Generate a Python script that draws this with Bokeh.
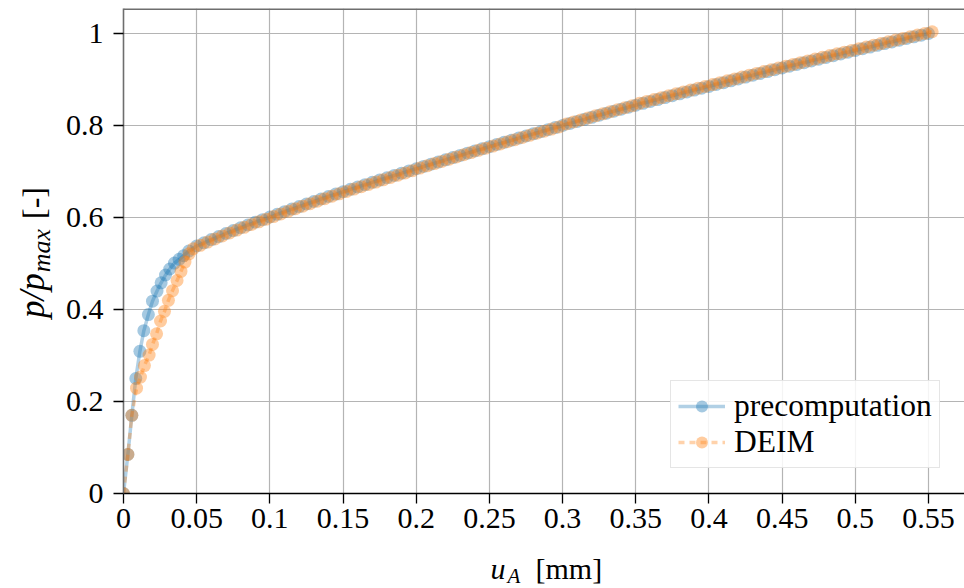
from math import pi
from bokeh.plotting import figure
from bokeh.layouts import column, row
from bokeh.models import Range1d, FixedTicker, Span
from bokeh.core.properties import value
from bokeh.embed import file_html
from bokeh.resources import INLINE

# ---------------- data ----------------
pre_x = [0, 0.003, 0.0057, 0.0084, 0.0112, 0.0139, 0.017, 0.0198, 0.0229, 0.0257,
         0.0287, 0.0316, 0.0348, 0.038, 0.0411, 0.0446,
         0.05, 0.055, 0.06, 0.065, 0.07, 0.075, 0.08, 0.085, 0.09, 0.095,
         0.1, 0.105, 0.11, 0.115, 0.12, 0.125, 0.13, 0.135, 0.14, 0.145,
         0.15, 0.155, 0.16, 0.165, 0.17, 0.175, 0.18, 0.185, 0.19, 0.195,
         0.2, 0.205, 0.21, 0.215, 0.22, 0.225, 0.23, 0.235, 0.24, 0.245,
         0.25, 0.255, 0.26, 0.265, 0.27, 0.275, 0.28, 0.285, 0.29, 0.295,
         0.3, 0.305, 0.31, 0.315, 0.32, 0.325, 0.33, 0.335, 0.34, 0.345,
         0.35, 0.355, 0.36, 0.365, 0.37, 0.375, 0.38, 0.385, 0.39, 0.395,
         0.4, 0.405, 0.41, 0.415, 0.42, 0.425, 0.43, 0.435, 0.44, 0.445,
         0.45, 0.455, 0.46, 0.465, 0.47, 0.475, 0.48, 0.485, 0.49, 0.495,
         0.5, 0.505, 0.51, 0.515, 0.52, 0.525, 0.53, 0.535, 0.54, 0.545,
         0.55]
pre_y = [0, 0.085, 0.170, 0.250, 0.309, 0.354, 0.389, 0.418, 0.440, 0.458,
         0.475, 0.488, 0.501, 0.509, 0.517, 0.527,
         0.5380, 0.5450, 0.5520, 0.5586, 0.5652, 0.5715, 0.5777, 0.5837, 0.5896, 0.5953,
         0.6010, 0.6068, 0.6126, 0.6182, 0.6238, 0.6293, 0.6348, 0.6402, 0.6456, 0.6508,
         0.6560, 0.6612, 0.6663, 0.6714, 0.6764, 0.6814, 0.6864, 0.6914, 0.6963, 0.7012,
         0.7060, 0.7109, 0.7157, 0.7205, 0.7254, 0.7302, 0.7350, 0.7398, 0.7445, 0.7492,
         0.7540, 0.7587, 0.7633, 0.7679, 0.7726, 0.7772, 0.7818, 0.7864, 0.7909, 0.7955,
         0.8000, 0.8045, 0.8089, 0.8133, 0.8178, 0.8222, 0.8266, 0.8310, 0.8353, 0.8397,
         0.8440, 0.8482, 0.8523, 0.8564, 0.8606, 0.8647, 0.8688, 0.8729, 0.8769, 0.8810,
         0.8850, 0.8891, 0.8931, 0.8971, 0.9012, 0.9052, 0.9092, 0.9132, 0.9171, 0.9211,
         0.9250, 0.9289, 0.9327, 0.9365, 0.9404, 0.9442, 0.9480, 0.9518, 0.9555, 0.9593,
         0.9630, 0.9668, 0.9705, 0.9742, 0.9780, 0.9817, 0.9854, 0.9891, 0.9927, 0.9964,
         1.0000]

deim_x = [0, 0.003, 0.0057, 0.0089, 0.0116, 0.0143, 0.0175, 0.0198, 0.0226, 0.0253,
          0.028, 0.0307, 0.0335, 0.0366, 0.0393, 0.042, 0.0448, 0.0476,
          0.0525, 0.0575, 0.0625, 0.0675, 0.0725, 0.0775, 0.0825, 0.0875, 0.0925, 0.0975,
          0.1025, 0.1075, 0.1125, 0.1175, 0.1225, 0.1275, 0.1325, 0.1375, 0.1425, 0.1475,
          0.1525, 0.1575, 0.1625, 0.1675, 0.1725, 0.1775, 0.1825, 0.1875, 0.1925, 0.1975,
          0.2025, 0.2075, 0.2125, 0.2175, 0.2225, 0.2275, 0.2325, 0.2375, 0.2425, 0.2475,
          0.2525, 0.2575, 0.2625, 0.2675, 0.2725, 0.2775, 0.2825, 0.2875, 0.2925, 0.2975,
          0.3025, 0.3075, 0.3125, 0.3175, 0.3225, 0.3275, 0.3325, 0.3375, 0.3425, 0.3475,
          0.3525, 0.3575, 0.3625, 0.3675, 0.3725, 0.3775, 0.3825, 0.3875, 0.3925, 0.3975,
          0.4025, 0.4075, 0.4125, 0.4175, 0.4225, 0.4275, 0.4325, 0.4375, 0.4425, 0.4475,
          0.4525, 0.4575, 0.4625, 0.4675, 0.4725, 0.4775, 0.4825, 0.4875, 0.4925, 0.4975,
          0.5025, 0.5075, 0.5125, 0.5175, 0.5225, 0.5275, 0.5325, 0.5375, 0.5425, 0.5475,
          0.5525]
deim_y = [0, 0.085, 0.170, 0.229, 0.253, 0.278, 0.301, 0.324, 0.347, 0.375,
          0.396, 0.420, 0.441, 0.463, 0.483, 0.503, 0.521, 0.532,
          0.5395, 0.5465, 0.5533, 0.5599, 0.5663, 0.5726, 0.5787, 0.5846, 0.5905, 0.5962,
          0.6019, 0.6077, 0.6134, 0.6190, 0.6246, 0.6301, 0.6355, 0.6409, 0.6462, 0.6514,
          0.6566, 0.6617, 0.6668, 0.6719, 0.6769, 0.6819, 0.6869, 0.6918, 0.6967, 0.7016,
          0.7074, 0.7123, 0.7171, 0.7219, 0.7268, 0.7316, 0.7364, 0.7412, 0.7459, 0.7506,
          0.7553, 0.7600, 0.7646, 0.7692, 0.7739, 0.7785, 0.7831, 0.7877, 0.7922, 0.7967,
          0.8032, 0.8077, 0.8121, 0.8165, 0.8210, 0.8254, 0.8298, 0.8342, 0.8385, 0.8428,
          0.8481, 0.8522, 0.8564, 0.8605, 0.8647, 0.8688, 0.8728, 0.8769, 0.8809, 0.8850,
          0.8890, 0.8931, 0.8971, 0.9011, 0.9052, 0.9092, 0.9132, 0.9172, 0.9211, 0.9250,
          0.9289, 0.9328, 0.9366, 0.9404, 0.9443, 0.9481, 0.9519, 0.9557, 0.9594, 0.9632,
          0.9669, 0.9706, 0.9744, 0.9781, 0.9819, 0.9856, 0.9892, 0.9929, 0.9965, 1.0002,
          1.0038]

x_ticks = [0, 0.05, 0.1, 0.15, 0.2, 0.25, 0.3, 0.35, 0.4, 0.45, 0.5, 0.55]
x_tick_labels = ["0", "0.05", "0.1", "0.15", "0.2", "0.25", "0.3", "0.35", "0.4", "0.45", "0.5", "0.55"]
y_ticks = [0, 0.2, 0.4, 0.6, 0.8, 1]
y_tick_labels = ["0", "0.2", "0.4", "0.6", "0.8", "1"]

series_names = ["precomputation", "DEIM"]

# axis-title pieces: (text, font size, style)
x_title = [("u", "30px", "italic"), ("A", "21px", "italic"), ("[mm]", "30px", "normal")]
y_title = [("p/p", "35px", "italic"), ("max", "26px", "italic"), ("[-]", "32px", "normal")]

# ---------------- styling ----------------
FONT = "Liberation Serif"
BLUE = "#1f77b4"
ORANGE = "#ff7f0e"
YMAX = 1.0543
XMAX = 0.5746

# ---------------- main plot ----------------
p = figure(width=904, height=548, output_backend="svg", toolbar_location=None,
           x_range=Range1d(0, XMAX), y_range=Range1d(0, YMAX),
           min_border_left=63, min_border_right=0, min_border_top=8, min_border_bottom=55)
p.outline_line_color = None
p.background_fill_color = "white"
p.border_fill_color = "white"

for ax in (p.xaxis[0], p.yaxis[0]):
    ax.major_label_text_font = FONT
    ax.major_label_text_font_size = "30px"
    ax.major_label_text_color = "black"
    ax.major_tick_line_color = "black"
    ax.major_tick_line_width = 1.3
    ax.major_tick_out = 10
    ax.major_tick_in = 0
    ax.minor_tick_line_color = None

p.xaxis[0].ticker = FixedTicker(ticks=x_ticks)
p.xaxis[0].major_label_overrides = dict(zip(x_ticks, x_tick_labels))
p.xaxis[0].axis_line_color = "black"
p.xaxis[0].axis_line_width = 1.3
p.xaxis[0].major_label_standoff = 5

p.yaxis[0].ticker = FixedTicker(ticks=y_ticks)
p.yaxis[0].major_label_overrides = dict(zip(y_ticks, y_tick_labels))
p.yaxis[0].axis_line_color = "#6e6e6e"
p.yaxis[0].axis_line_width = 1.6
p.yaxis[0].major_label_standoff = 10

p.xgrid.ticker = FixedTicker(ticks=x_ticks)
p.ygrid.ticker = FixedTicker(ticks=y_ticks)
for g in (p.xgrid[0], p.ygrid[0]):
    g.grid_line_color = "#b4b4b4"
    g.grid_line_width = 1.2

p.add_layout(Span(location=YMAX, dimension="width", line_color="#6e6e6e", line_width=3))

p.line(pre_x, pre_y, line_color=BLUE, line_alpha=0.35, line_width=3.5, legend_label=series_names[0])
p.scatter(pre_x, pre_y, marker="circle", size=13, fill_color=BLUE, fill_alpha=0.4,
          line_color=None, legend_label=series_names[0])
p.line(deim_x, deim_y, line_color=ORANGE, line_alpha=0.35, line_width=3.5, line_dash="6 5",
       legend_label=series_names[1])
p.scatter(deim_x, deim_y, marker="circle", size=13, fill_color=ORANGE, fill_alpha=0.4,
          line_color=None, legend_label=series_names[1])

lg = p.legend[0]
lg.location = (547, 25)
lg.label_text_font = FONT
lg.label_text_font_size = "31.5px"
lg.label_text_color = "black"
lg.border_line_color = "#cccccc"
lg.border_line_width = 1.2
lg.background_fill_alpha = 0.85
lg.glyph_width = 47
lg.glyph_height = 30
lg.label_standoff = 9
lg.spacing = 0
lg.padding = 7
lg.margin = 0


def label_fig(w, h, y_range):
    f = figure(width=w, height=h, output_backend="svg", toolbar_location=None, title=None,
               x_range=Range1d(0, w), y_range=y_range,
               x_axis_type=None, y_axis_type=None,
               min_border_left=0, min_border_right=0, min_border_top=0, min_border_bottom=0)
    f.outline_line_color = None
    f.grid.visible = False
    f.background_fill_color = "white"
    f.border_fill_color = "white"
    return f


def add_piece(f, x, y, piece, angle=0.0, align="left", baseline="top"):
    txt, size, style = piece
    f.text(x=[x], y=[y], text=[txt], angle=angle, text_font=value(FONT),
           text_font_size=value(size), text_font_style=value(style),
           text_color="black", text_align=align, text_baseline=baseline)


# y-axis title panel (left). Its frame is aligned with the main frame by the row
# layout, so a reversed range (493 at the bottom, 8 at the top) maps page pixels.
yl = label_fig(60, 548, Range1d(493, 8))
add_piece(yl, 32.1, 295.2, y_title[0], pi / 2, "center", "middle")
add_piece(yl, 41.2, 250.2, y_title[1], pi / 2, "center", "middle")
add_piece(yl, 33.1, 202.5, y_title[2], pi / 2, "center", "middle")

# x-axis title panel (bottom); anchors are the tops of the text boxes
xl = label_fig(964, 40, Range1d(0, 40))
add_piece(xl, 490, 36.7, x_title[0])
add_piece(xl, 507, 24.7, x_title[1])
add_piece(xl, 535, 36.7, x_title[2])

layout = column(row(yl, p, spacing=0), xl, spacing=0)

open("out.html", "w").write(file_html(layout, INLINE))
